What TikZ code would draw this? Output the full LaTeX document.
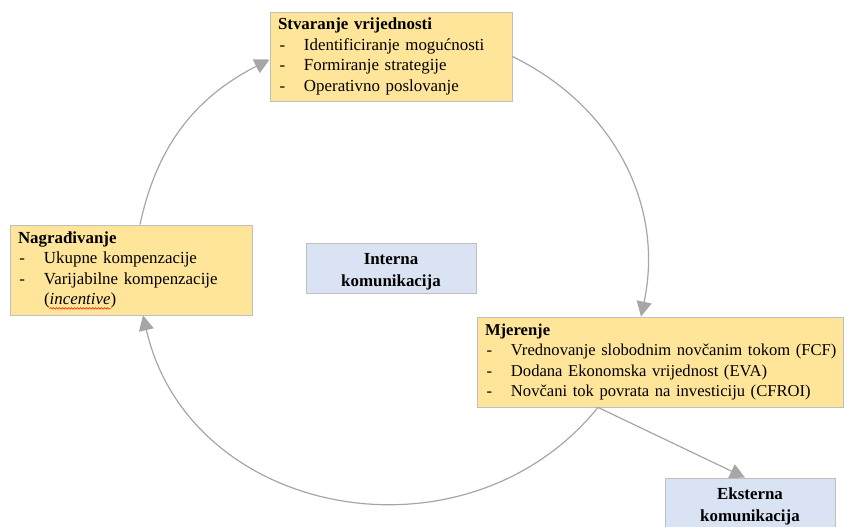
\documentclass[tikz,border=0pt]{standalone}
\usepackage{fontspec}
\setmainfont{Liberation Serif}
\usetikzlibrary{arrows.meta,decorations.pathmorphing}
\definecolor{boxyellow}{RGB}{255,229,153}
\definecolor{boxblue}{RGB}{218,227,243}
\definecolor{edgegray}{RGB}{191,191,191}
\definecolor{arrowgray}{RGB}{166,166,166}
\newcommand\dashitem{\makebox[26pt][l]{\hspace{1.5pt}-}}
\begin{document}
\begin{tikzpicture}[x=1pt,y=1pt,
  stagebox/.style={draw=edgegray, line width=0.8pt, fill=boxyellow, rectangle,
    inner xsep=8pt, inner ysep=0pt, align=left,
    font=\fontsize{16.9pt}{20.6pt}\selectfont},
  commbox/.style={draw=edgegray, line width=0.8pt, fill=boxblue,
    minimum width=170pt, minimum height=50pt, inner sep=0pt},
  commtext/.style={align=center, inner sep=0pt,
    font=\fontsize{16.9pt}{21.7pt}\selectfont\bfseries},
  cyclearrow/.style={draw=arrowgray, line width=1.2pt,
    -{Triangle[width=15pt,length=15pt]}},
  spellwave/.style={draw=red, line width=0.5pt,
    decorate, decoration={snake, amplitude=0.8pt, segment length=3pt}}
]
\useasboundingbox (0,0) rectangle (844,527);

\node[stagebox, text width=226pt, minimum height=89pt] (T) at (391,470.5)
  {\textbf{Stvaranje vrijednosti}\\
   \dashitem Identificiranje mogućnosti\\
   \dashitem Formiranje strategije\\
   \dashitem Operativno poslovanje};

\node[stagebox, text width=226pt, minimum height=90pt] (L) at (131,257)
  {\textbf{Nagrađivanje}\\
   \dashitem Ukupne kompenzacije\\
   \dashitem Varijabilne kompenzacije\\
   \hspace*{26pt}(\textit{incentive})};

\node[stagebox, text width=350pt, minimum height=90pt,
      font=\fontsize{16.6pt}{20.6pt}\selectfont] (R) at (660,165)
  {\textbf{Mjerenje}\\
   \mbox{\dashitem Vrednovanje slobodnim novčanim tokom (FCF)}\\
   \mbox{\dashitem Dodana Ekonomska vrijednost (EVA)}\\
   \mbox{\dashitem Novčani tok povrata na investiciju (CFROI)}};

\node[commbox] (I) at (391,259) {};
\node[commtext] (It) at ([yshift=-3.5pt]I.center) {Interna\\komunikacija};
\node[commbox] (E) at (750,24) {};
\node[commtext] (Et) at ([yshift=-3.5pt]E.center) {Eksterna\\komunikacija};

\draw[spellwave] ([shift={(40pt,7pt)}]L.south west) -- ([shift={(101pt,7pt)}]L.south west);

\draw[cyclearrow] ([xshift=9pt]L.north) to[out=78,in=207] ([yshift=-3pt]T.west);
\draw[cyclearrow] (T.east) to[out=-26,in=78] ([xshift=-19pt]R.north);
\draw[cyclearrow] ([xshift=-62pt]R.south) to[out=231,in=-77,looseness=1.15] ([xshift=12pt]L.south);
\draw[cyclearrow] ([xshift=-62pt]R.south) -- ([xshift=-5pt]E.north);
\end{tikzpicture}
\end{document}
